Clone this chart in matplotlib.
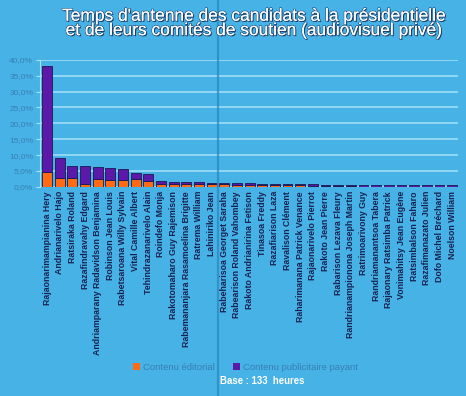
import numpy as np
import matplotlib
matplotlib.use("Agg")
import matplotlib.pyplot as plt
import matplotlib.patheffects as pe
from matplotlib.patches import Patch
from matplotlib.lines import Line2D
from matplotlib.ticker import FuncFormatter

# --------------------------------------------------------------------------- #
#  Data (share of airtime, %)                                                 #
# --------------------------------------------------------------------------- #

candidates = [
    "Rajaonarimampianina Hery", "Andrianarivelo Hajo", "Ratsiraka Roland",
    "Razafindravahy Edgard", "Andriamparany Radavidson Benjamina",
    "Robinson Jean Louis", "Rabetsaroana Willy Sylvain", "Vital Camille Albert",
    "Tehindrazanarivelo Alain", "Roindefo Monja", "Rakotomaharo Guy Rajemison",
    "Rabemananjara Rasamoelina Brigitte", "Ratrema William", "Lahiniriko Jean",
    "Rabeharisoa Georget Saraha", "Rabearison Roland Vahombey",
    "Rakoto Andrianirina Fetison", "Tinasoa Freddy", "Razafiarison Laza",
    "Ravalison Clément", "Raharimanana Patrick Venance", "Rajaonarivelo Pierrot",
    "Rakoto Jean Pierre", "Rabarison Lezava Fleury",
    "Randrianampionona Joseph Martin", "Ratrimoarivony Guy",
    "Randriamanantsoa Tabera", "Rajaonary Ratsimba Patrick",
    "Vonimahitsy Jean Eugène", "Ratsimbalson Faharo", "Razafimanazato Julien",
    "Dofo Michel Bréchard", "Noelson William",
]

editorial = [4.8, 2.9, 2.9, 0.9, 2.6, 2.2, 2.2, 2.4, 1.9, 1.0, 0.9,
             0.9, 0.8, 0.8, 0.8, 0.7, 0.7, 0.6, 0.5, 0.5, 0.5, 0.4,
             0.4, 0.4, 0.3, 0.1, 0.1, 0.1, 0.1, 0.05, 0.05, 0.05, 0.05]
publicite = [33.2, 6.3, 3.8, 5.8, 3.6, 3.6, 3.5, 1.9, 2.2, 0.9, 0.6,
             0.6, 0.6, 0.5, 0.4, 0.5, 0.4, 0.4, 0.5, 0.4, 0.3, 0.4,
             0.3, 0.3, 0.4, 0.5, 0.5, 0.5, 0.5, 0.45, 0.45, 0.45, 0.45]

yticks = [0, 5, 10, 15, 20, 25, 30, 35, 40]

title = ("Temps d'antenne des candidats à la présidentielle\n"
         "et de leurs comités de soutien (audiovisuel privé)")

# --------------------------------------------------------------------------- #
#  Style                                                                       #
# --------------------------------------------------------------------------- #

BG       = "#46b2e6"
GRID     = "#a6e2f8"
ORANGE   = "#ff6a12"
PURPLE   = "#5c18a8"
EDGE     = "#1c1850"
TICK_COL = "#3a7fb2"
NAME_COL = "#1a2150"

plt.rcParams["font.family"] = ["Liberation Sans", "DejaVu Sans"]

fig = plt.figure(figsize=(4.66, 3.96), dpi=100, facecolor=BG)
ax = fig.add_axes([0.086, 0.528, 0.897, 0.321])
ax.set_facecolor(BG)

x = np.arange(len(candidates))
ax.bar(x, editorial, width=0.78, color=ORANGE, edgecolor=EDGE, lw=0.6, zorder=3)
ax.bar(x, publicite, width=0.78, bottom=editorial, color=PURPLE,
       edgecolor=EDGE, lw=0.6, zorder=3)

ax.set_xlim(-0.55, len(candidates) - 0.53)
ax.set_ylim(0, 40)
ax.set_yticks(yticks)
ax.yaxis.set_major_formatter(FuncFormatter(lambda v, _: f"{v:.1f}%".replace(".", ",")))
ax.tick_params(axis="y", labelsize=6, colors=TICK_COL, length=3, width=0.8,
               color=GRID, pad=2)
ax.yaxis.grid(True, color=GRID, lw=1.1, zorder=0)

ax.set_xticks(x)
ax.set_xticklabels(candidates, rotation=90, fontsize=6.3, color=NAME_COL,
                   fontweight="bold")
ax.tick_params(axis="x", length=0, pad=3)

for side in ["top", "right", "bottom"]:
    ax.spines[side].set_visible(False)
ax.spines["left"].set_color(GRID)
ax.spines["left"].set_linewidth(0.8)

# title, white with dark shadow
fig.text(0.546, 0.978, title, ha="center", va="top", fontsize=12.5,
         color="white", linespacing=0.95,
         path_effects=[pe.SimplePatchShadow(offset=(0.8, -0.8),
                                            shadow_rgbFace="#123055", alpha=0.9),
                       pe.withStroke(linewidth=1.0, foreground="#1d4475"),
                       pe.Normal()])

# video seam
fig.add_artist(Line2D([0.468, 0.468], [0, 1], transform=fig.transFigure,
                      color="#2d8cc2", lw=1.6, alpha=0.8))

handles = [Patch(facecolor=ORANGE, label="Contenu éditorial"),
           Patch(facecolor=PURPLE, label="Contenu publicitaire payant")]
leg = fig.legend(handles=handles, loc="center", bbox_to_anchor=(0.527, 0.072),
                 ncol=2, frameon=False, fontsize=6.8, handlelength=0.7,
                 handleheight=0.7, handletextpad=0.3, columnspacing=2.0)
for t in leg.get_texts():
    t.set_color(TICK_COL)

fig.text(0.562, 0.037, "Base : 133  heures", ha="center", va="center",
         fontsize=6.9, color="white", fontweight="bold")

fig.savefig("out.png", dpi=100, facecolor=BG)
